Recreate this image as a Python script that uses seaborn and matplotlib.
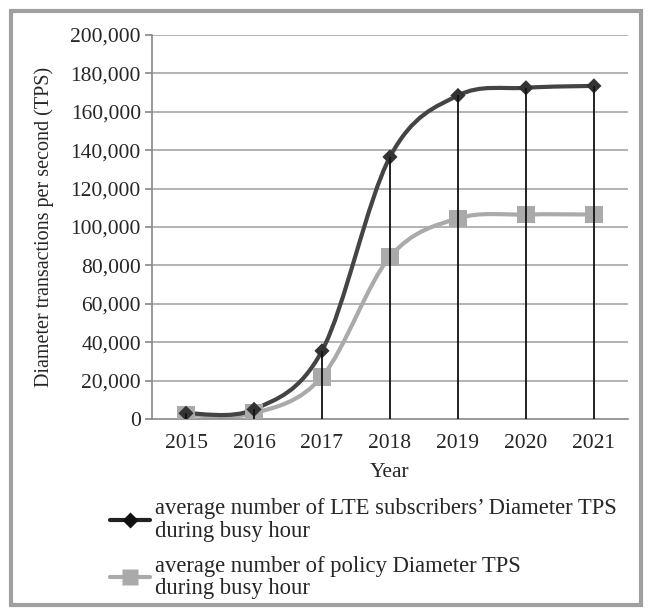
import matplotlib
matplotlib.use("Agg")
import matplotlib.pyplot as plt
import seaborn as sns
import numpy as np
import pandas as pd
from matplotlib.path import Path
from matplotlib.patches import PathPatch, Rectangle
from matplotlib.lines import Line2D
from matplotlib.ticker import FuncFormatter

years = ["2015", "2016", "2017", "2018", "2019", "2020", "2021"]
lte_tps = [3000, 5000, 35500, 136500, 168500, 172500, 173500]
policy_tps = [2000, 3000, 22000, 84500, 104500, 106500, 106500]
y_ticks = [0, 20000, 40000, 60000, 80000, 100000, 120000, 140000, 160000, 180000, 200000]
lte_label = "average number of LTE subscribers\u2019 Diameter TPS\nduring busy hour"
policy_label = "average number of policy Diameter TPS\nduring busy hour"

sns.set_theme(style="white")
plt.rcParams['font.family'] = ['Liberation Serif', 'DejaVu Serif']

df = pd.DataFrame({
    "pos": list(range(len(years))) * 2,
    "value": lte_tps + policy_tps,
    "series": ["lte"] * len(years) + ["policy"] * len(years),
})

fig = plt.figure(figsize=(6.48, 6.10), dpi=100)
ax = fig.add_axes([0.2346, 0.3131, 0.969 - 0.2346, 0.9426 - 0.3131])

lte_col = "#444444"
pol_col = "#aaaaaa"
FS = 15.5


def smooth_path(xs, ys):
    pts = np.column_stack([xs, ys]).astype(float)
    n = len(pts)
    verts = [pts[0]]
    codes = [Path.MOVETO]
    for i in range(n - 1):
        p0 = pts[i - 1] if i > 0 else pts[i]
        p1 = pts[i]
        p2 = pts[i + 1]
        p3 = pts[i + 2] if i + 2 < n else pts[i + 1]
        c1 = p1 + (p2 - p0) / 6.0
        c2 = p2 - (p3 - p1) / 6.0
        verts += [c1, c2, p2]
        codes += [Path.CURVE4] * 3
    return Path(verts, codes)


# gridlines
for t in y_ticks[1:]:
    ax.axhline(t, color="#a6a6a6", lw=1.2, zorder=0)

pos = np.arange(len(years))
ax.add_patch(PathPatch(smooth_path(pos, policy_tps), fill=False, edgecolor=pol_col, lw=3, zorder=2))
ax.add_patch(PathPatch(smooth_path(pos, lte_tps), fill=False, edgecolor=lte_col, lw=3, zorder=3))

sns.scatterplot(data=df[df.series == "policy"], x="pos", y="value", marker="s", s=160,
                color=pol_col, edgecolor="none", ax=ax, zorder=4, legend=False)
sns.scatterplot(data=df[df.series == "lte"], x="pos", y="value", marker="D", s=60,
                color="#333333", edgecolor="none", ax=ax, zorder=5, legend=False)

ax.vlines(pos, 0, lte_tps, color="#111111", lw=1.3, zorder=6)

ax.set_xlim(-0.5, len(years) - 0.5)
ax.set_ylim(0, 200000)
ax.set_xticks(pos)
ax.set_xticklabels(years)
ax.set_yticks(y_ticks)
ax.yaxis.set_major_formatter(FuncFormatter(lambda v, p: f"{int(v):,}"))
ax.tick_params(axis="y", left=True, length=5, color="#888888", width=1.2, labelsize=FS, pad=3)
ax.tick_params(axis="x", bottom=False, labelsize=FS, pad=5)
for s in ["top", "right"]:
    ax.spines[s].set_visible(False)
for s in ["left", "bottom"]:
    ax.spines[s].set_color("#888888")
    ax.spines[s].set_linewidth(1.2)
ax.set_xlabel("Year", fontsize=FS, labelpad=7)
ax.set_ylabel("Diameter transactions per second (TPS)", fontsize=14.5, labelpad=12)

handles = [
    Line2D([], [], color="#222222", lw=3, marker="D", markersize=8.5, markerfacecolor="#111111", markeredgecolor="none"),
    Line2D([], [], color=pol_col, lw=3, marker="s", markersize=11, markerfacecolor=pol_col, markeredgecolor="none"),
]
leg = fig.legend(handles, [lte_label, policy_label], loc="upper left", bbox_to_anchor=(0.156, 0.198),
                 frameon=False, fontsize=16.3, handlelength=1.75, handletextpad=0.25, labelspacing=0.62,
                 borderaxespad=0)
for t in leg.get_texts():
    t.set_linespacing(1.08)

fig.patches.append(Rectangle((11 / 648, 5 / 610), 630 / 648, 594 / 610, transform=fig.transFigure,
                             fill=False, edgecolor="#a0a0a0", lw=3))

fig.savefig("out.png", dpi=100)
